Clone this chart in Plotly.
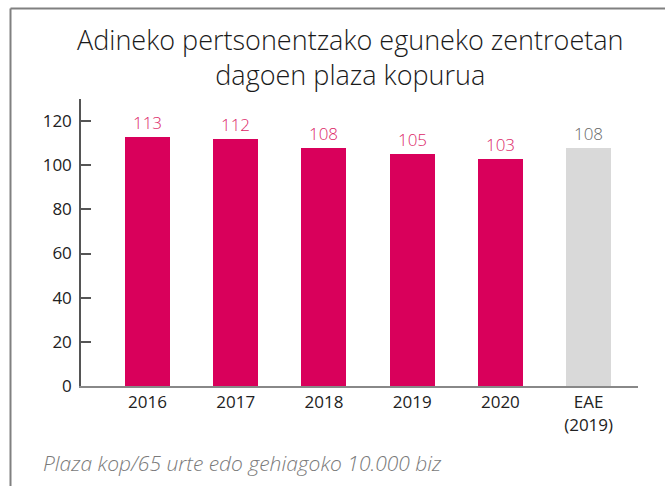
import plotly.graph_objects as go

categories = ["2016", "2017", "2018", "2019", "2020", "EAE<br>(2019)"]
values = [113, 112, 108, 105, 103, 108]
bar_colors = ["#D9005B"] * 5 + ["#D9D9D9"]
label_colors = ["#DC1F68"] * 5 + ["#666666"]
y_ticks = [0, 20, 40, 60, 80, 100, 120]

W, H = 665, 486
L, R, T, B = 81, 27, 99, 100
pw, ph = W - L - R, H - T - B
FONT = "Open Sans"

x_pos = list(range(len(categories)))

fig = go.Figure()
fig.add_trace(go.Bar(
    x=x_pos, y=values, width=0.51,
    marker=dict(color=bar_colors, line=dict(width=0)),
    text=[str(v) for v in values], textposition="outside",
    textfont=dict(color=label_colors, size=17, family=FONT, weight=300),
    cliponaxis=False, hoverinfo="skip",
))

def px_x(p):
    return (p - L) / pw

def px_y(p):
    return (H - B - p) / ph

fig.update_layout(
    width=W, height=H,
    margin=dict(l=L, r=R, t=T, b=B),
    plot_bgcolor="white", paper_bgcolor="white",
    showlegend=False,
    bargap=0,
    font=dict(family=FONT, size=17, color="#333333"),
    xaxis=dict(
        tickmode="array", tickvals=x_pos, ticktext=categories,
        range=[-0.754, 5.56], showgrid=False, zeroline=False,
        showline=True, linecolor="#888888", linewidth=2,
        ticks="", tickfont=dict(size=17, color="#222222", family=FONT),
        fixedrange=True,
    ),
    yaxis=dict(
        range=[0, 130], tickvals=y_ticks, showgrid=False, zeroline=False,
        showline=True, linecolor="#555555", linewidth=1.5,
        ticks="inside", ticklen=10, tickcolor="#555555", tickwidth=1.5,
        tickfont=dict(size=17, color="#222222", family=FONT),
        ticklabelstandoff=4,
        fixedrange=True,
    ),
    shapes=[
        dict(type="line", xref="paper", yref="paper",
             x0=px_x(10.5), x1=px_x(700), y0=px_y(8.5), y1=px_y(8.5),
             line=dict(color="#808080", width=2)),
        dict(type="line", xref="paper", yref="paper",
             x0=px_x(10.5), x1=px_x(10.5), y0=px_y(8.5), y1=px_y(520),
             line=dict(color="#808080", width=2)),
    ],
    annotations=[
        dict(text="Adineko pertsonentzako eguneko zentroetan<br>dagoen plaza kopurua",
             xref="paper", yref="paper", x=px_x(350), y=px_y(57),
             xanchor="center", yanchor="middle", showarrow=False,
             font=dict(family=FONT, size=27, color="#1a1a1a", weight=300)),
        dict(text="<i>Plaza kop/65 urte edo gehiagoko 10.000 biz</i>",
             xref="paper", yref="paper", x=px_x(41), y=px_y(463),
             xanchor="left", yanchor="middle", showarrow=False,
             font=dict(family=FONT, size=21, color="#7a7a7a", weight=300)),
    ],
)

fig.write_html(
    "out.html",
    config={"displayModeBar": False},
    post_script="document.body.style.margin='0';document.body.style.overflow='hidden';",
)
